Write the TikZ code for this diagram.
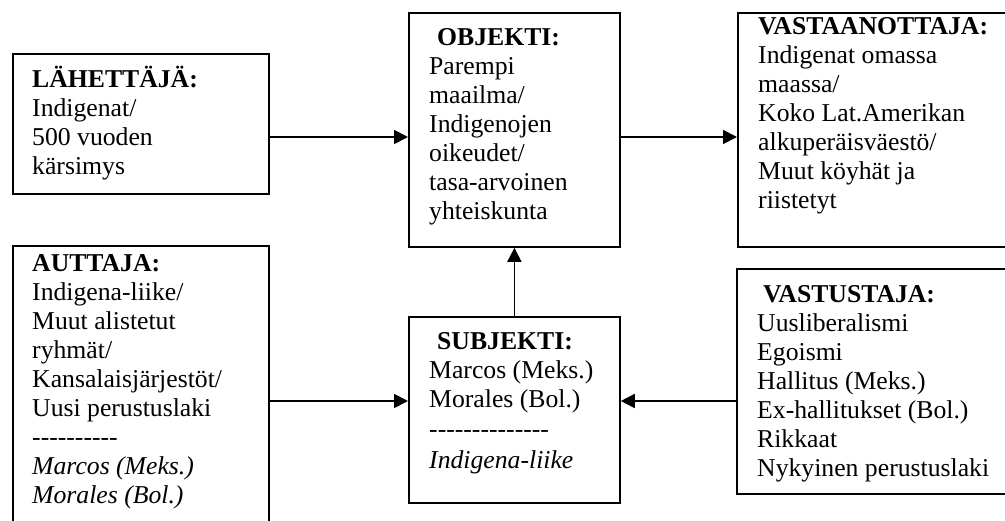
\documentclass[tikz,border=0pt]{standalone}
\usepackage{fontspec}
\setmainfont{Liberation Serif}
\usetikzlibrary{arrows.meta}
% a run of separate hyphens (no en/em-dash ligatures)
\newcommand\hyphenrun[1]{\foreach \k in {1,...,#1}{\mbox{-}}}
\begin{document}
\begin{tikzpicture}[x=1pt,y=-1pt,
  box/.style={draw, line width=1.8pt, rectangle, inner sep=0pt, anchor=north west},
  txt/.style={anchor=base west, inner sep=0pt, font=\fontsize{25.7}{29}\selectfont},
  link/.style={line width=1.8pt, -{Triangle[length=14pt,width=14pt]}}]
\useasboundingbox (0,0) rectangle (1005,521);
\clip (0,0) rectangle (1005,521);

% frames
\node[box, minimum width=256pt, minimum height=140pt] (lah)  at (12,53)   {};
\node[box, minimum width=211pt, minimum height=234pt] (obj)  at (408,12)  {};
\node[box, minimum width=290pt, minimum height=234pt] (rec)  at (737,12)  {};
\node[box, minimum width=256pt, minimum height=300pt] (aut)  at (12,245)  {};
\node[box, minimum width=211pt, minimum height=186pt] (subj) at (408,316) {};
\node[box, minimum width=290pt, minimum height=225pt] (opp)  at (736,268) {};

% texts
\node[txt] (lahT) at (32,88) {\begin{tabular}[t]{@{}l@{}}
  \textbf{LÄHETTÄJÄ:}\\ Indigenat/\\ 500 vuoden\\ kärsimys\end{tabular}};
\node[txt] (objT) at (429,46) {\begin{tabular}[t]{@{}l@{}}
  \hspace{8pt}\textbf{OBJEKTI:}\\ Parempi\\ maailma/\\ Indigenojen\\ oikeudet/\\
  tasa-arvoinen\\ yhteiskunta\end{tabular}};
\node[txt] (recT) at (758,35) {\begin{tabular}[t]{@{}l@{}}
  \textbf{VASTAANOTTAJA:}\\ Indigenat omassa\\ maassa/\\ Koko Lat.Amerikan\\
  alkuperäisväestö/\\ Muut köyhät ja\\ riistetyt\end{tabular}};
\node[txt] (autT) at (32,272) {\begin{tabular}[t]{@{}l@{}}
  \textbf{AUTTAJA:}\\ Indigena-liike/\\ Muut alistetut\\ ryhmät/\\
  Kansalaisjärjestöt/\\ Uusi perustuslaki\\ \hyphenrun{10}\\
  \textit{Marcos (Meks.)}\\ \textit{Morales (Bol.)}\end{tabular}};
\node[txt] (subjT) at (429,350) {\begin{tabular}[t]{@{}l@{}}
  \hspace{8pt}\textbf{SUBJEKTI:}\\ Marcos (Meks.)\\ Morales (Bol.)\\[1pt]
  \hyphenrun{14}\\[2pt] \textit{Indigena-liike}\end{tabular}};
\node[txt] (oppT) at (757,303) {\begin{tabular}[t]{@{}l@{}}
  \hspace{6pt}\textbf{VASTUSTAJA:}\\ Uusliberalismi\\ Egoismi\\ Hallitus (Meks.)\\
  Ex-hallitukset (Bol.)\\ Rikkaat\\ Nykyinen perustuslaki\end{tabular}};

% connector heights
\coordinate (upper) at (0,137);
\coordinate (lower) at (0,401);

% connectors
\draw[link] (lah.east |- upper) -- (obj.west |- upper);
\draw[link] (obj.east |- upper) -- (rec.west |- upper);
\draw[link] (subj.north) -- (obj.south);
\draw[link] (aut.east |- lower) -- (subj.west |- lower);
\draw[link] (opp.west |- lower) -- (subj.east |- lower);
\end{tikzpicture}
\end{document}
